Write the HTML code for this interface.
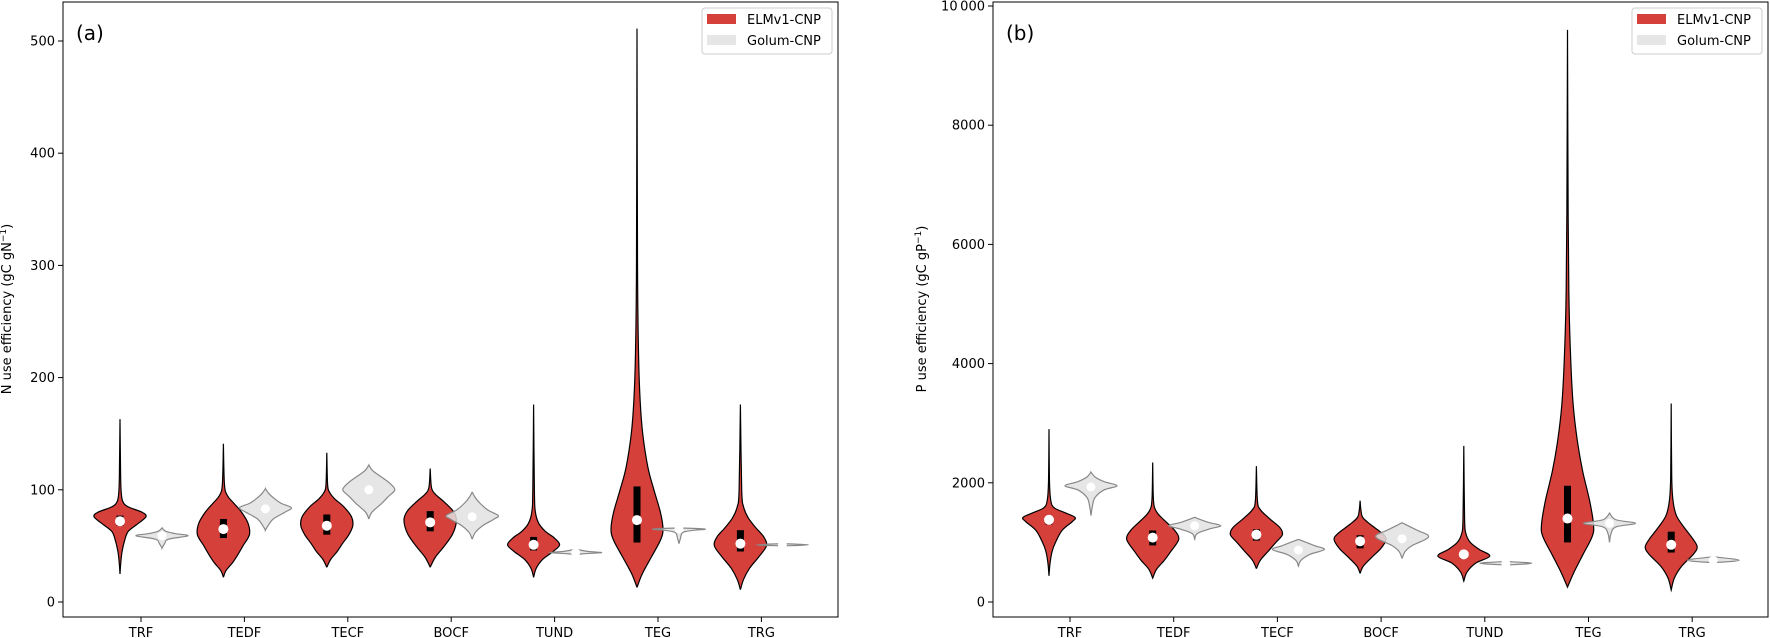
<!DOCTYPE html>
<html><head><meta charset="utf-8"><style>
html,body{margin:0;padding:0;background:#fff;}
svg{display:block;font-family:"DejaVu Sans","Liberation Sans",sans-serif;}
</style></head>
<body>
<svg id="chart" width="1770" height="638" viewBox="0 0 1770 638" xmlns="http://www.w3.org/2000/svg"></svg>
<script>
const categories = ["TRF","TEDF","TECF","BOCF","TUND","TEG","TRG"];
// Panel A: N use efficiency
const aRedMin = [25,22,31,31,22,13,11];
const aRedMax = [163,141,133,119,176,511,176];
const aRedMed = [72,65,68,71,51,73,52];
const aRedQ1 = [68,57,60,63,46,53,45];
const aRedQ3 = [77,74,78,81,58,103,64];
const aRedVals = [
 [25,35,45,55,63,70,76,80,85,90,100,120,163],
 [22,28,35,42,50,60,70,80,88,95,105,141],
 [31,38,45,52,60,68,76,85,92,98,105,133],
 [31,40,50,60,68,75,82,90,96,102,119],
 [22,30,38,45,51,57,63,70,80,100,176],
 [13,25,40,55,65,80,100,120,150,180,220,300,511],
 [11,20,30,40,50,58,66,75,85,100,176]];
const aRedWid = [
 [0,0.03,0.08,0.18,0.32,0.7,1,0.85,0.3,0.1,0.04,0.02,0],
 [0,0.1,0.35,0.55,0.75,1,0.95,0.7,0.4,0.15,0.04,0],
 [0,0.15,0.4,0.6,0.85,1,0.95,0.65,0.3,0.1,0.03,0],
 [0,0.2,0.55,0.85,0.98,1,0.85,0.5,0.2,0.05,0],
 [0,0.1,0.35,0.75,1,0.8,0.45,0.2,0.07,0.03,0],
 [0,0.2,0.55,0.9,1,0.9,0.65,0.42,0.22,0.12,0.06,0.02,0],
 [0,0.12,0.35,0.7,1,0.9,0.6,0.3,0.12,0.05,0]];
const aGreyMed = [59,83,100,76,44,65,51];
const aGreyVals = [
 [48,52,56,59,61,63,66],
 [64,68,74,80,84,88,93,97,101],
 [74,80,88,94,100,106,112,117,122],
 [56,62,68,74,77,82,88,93,98],
 [42,43,44,45,47],
 [52,57,62,64,65,66],
 [50,51,52]];
const aGreyWid = [
 [0,0.1,0.25,1,0.5,0.15,0],
 [0,0.1,0.3,0.75,1,0.6,0.3,0.12,0],
 [0,0.12,0.5,0.75,1,0.8,0.45,0.15,0],
 [0,0.12,0.4,0.85,1,0.6,0.3,0.12,0],
 [0,0.3,1,0.5,0],
 [0,0.06,0.15,0.6,1,0],
 [0,1,0]];
const aTicks = [0,100,200,300,400,500];
const aTickLabels = ["0","100","200","300","400","500"];
// Panel B: P use efficiency
const bRedMin = [440,400,560,480,350,250,200];
const bRedMax = [2900,2340,2280,1700,2620,9600,3330];
const bRedMed = [1380,1080,1130,1020,800,1400,960];
const bRedQ1 = [1300,950,1030,900,730,1000,830];
const bRedQ3 = [1420,1200,1220,1120,850,1950,1180];
const bRedVals = [
 [440,650,850,1000,1200,1350,1420,1500,1580,1700,2000,2900],
 [400,550,700,850,1050,1200,1350,1480,1600,1800,2340],
 [560,700,850,1000,1130,1250,1400,1550,1700,2280],
 [480,600,750,900,1050,1150,1300,1420,1550,1700],
 [350,500,650,770,880,1000,1150,1400,2620],
 [250,500,800,1100,1300,1700,2200,2700,3300,4000,5000,6500,9600],
 [200,400,600,800,920,1050,1250,1450,1700,2100,3330]];
const bRedWid = [
 [0,0.04,0.12,0.25,0.5,0.9,1,0.6,0.2,0.07,0.02,0],
 [0,0.15,0.45,0.7,1,0.85,0.5,0.2,0.06,0.02,0],
 [0,0.15,0.45,0.75,1,0.9,0.5,0.15,0.04,0],
 [0,0.12,0.45,0.8,1,0.85,0.4,0.1,0.03,0],
 [0,0.12,0.45,1,0.6,0.25,0.08,0.03,0],
 [0,0.25,0.6,0.95,1,0.85,0.58,0.38,0.22,0.13,0.06,0.025,0],
 [0,0.12,0.4,0.85,1,0.85,0.5,0.2,0.07,0.02,0]];
const bGreyMed = [1930,1280,870,1060,650,1320,700];
const bGreyVals = [
 [1450,1600,1750,1880,1950,2020,2100,2180],
 [1050,1150,1230,1280,1340,1420],
 [600,700,800,880,950,1050],
 [730,850,950,1050,1120,1200,1330],
 [620,650,680],
 [1000,1150,1260,1320,1380,1490],
 [660,700,760]];
const bGreyWid = [
 [0,0.05,0.15,0.5,1,0.5,0.15,0],
 [0,0.1,0.6,1,0.5,0],
 [0,0.1,0.45,1,0.6,0],
 [0,0.12,0.4,0.9,1,0.6,0],
 [0,1,0],
 [0,0.06,0.25,1,0.25,0],
 [0,1,0]];
const bTicks = [0,2000,4000,6000,8000,10000];
const bTickLabels = ["0","2000","4000","6000","8000","10\u2009000"];

const NS = "http://www.w3.org/2000/svg";
const svg = document.getElementById("chart");
function mk(tag, attrs, parent){const e=document.createElementNS(NS,tag);for(const k in attrs)e.setAttribute(k,attrs[k]);(parent||svg).appendChild(e);return e;}

function smoothSide(pts){
  let d="";
  for(let i=0;i<pts.length-1;i++){
    const p0=pts[Math.max(0,i-1)],p1=pts[i],p2=pts[i+1],p3=pts[Math.min(pts.length-1,i+2)];
    const c1=[p1[0]+(p2[0]-p0[0])/6,p1[1]+(p2[1]-p0[1])/6];
    const c2=[p2[0]-(p3[0]-p1[0])/6,p2[1]-(p3[1]-p1[1])/6];
    d+=` C${c1[0].toFixed(2)},${c1[1].toFixed(2)} ${c2[0].toFixed(2)},${c2[1].toFixed(2)} ${p2[0].toFixed(2)},${p2[1].toFixed(2)}`;
  }
  return d;
}
function violinPath(cx, vals, wids, yScale, half){
  const right = vals.map((v,i)=>[cx+wids[i]*half, yScale(v)]);
  const left = vals.map((v,i)=>[cx-wids[i]*half, yScale(v)]).reverse();
  let d=`M${right[0][0]},${right[0][1]}`+smoothSide(right);
  d+=` L${left[0][0]},${left[0][1]}`+smoothSide(left)+" Z";
  return d;
}

function panel(cfg){
  const g = mk("g",{});
  
  
  const {x0,x1,y0,y1} = cfg;
  const yScale = v => cfg.yZero - v*cfg.yPx;
  const xScale = i => cfg.tick0 + i*cfg.step;
  const half = 26;
  cfg.ticks.forEach((t,i)=>{
    const y=yScale(t);
    const tl=mk("line",{x1:x0-5,x2:x0,y1:y,y2:y,stroke:"#000","stroke-width":1},g);
    
    
    const tx=mk("text",{x:x0-8,y:y+4.5,"text-anchor":"end","font-size":13,fill:"#000"},g);
    tx.textContent=cfg.tickLabels[i];
    
    
  });
  categories.forEach((c,i)=>{
    const x=xScale(i);
    const tl=mk("line",{x1:x,x2:x,y1:y1,y2:y1+5,stroke:"#000","stroke-width":1},g);
    
    
    const tx=mk("text",{x:x,y:637,"text-anchor":"middle","font-size":13,fill:"#000"},g);
    tx.textContent=c;
    
    
  });
  categories.forEach((c,i)=>{
    const cx=xScale(i)-21;
    const p=mk("path",{d:violinPath(cx,cfg.redVals[i],cfg.redWid[i],yScale,half),fill:"#d6403a",stroke:"#000","stroke-width":1.2},g);
    
    
    const b=mk("rect",{x:cx-3.5,y:yScale(cfg.redQ3[i]),width:7,height:yScale(cfg.redQ1[i])-yScale(cfg.redQ3[i]),fill:"#000"},g);
    
    
    const m=mk("circle",{cx:cx,cy:yScale(cfg.redMed[i]),r:5,fill:"#fff"},g);
    
    
  });
  categories.forEach((c,i)=>{
    const cx=xScale(i)+21;
    const vals=cfg.greyVals[i];
    const p=mk("path",{d:violinPath(cx,vals,cfg.greyWid[i],yScale,half),fill:"rgba(226,226,226,0.85)",stroke:"#888","stroke-width":1.2},g);
    
    
    const m=mk("circle",{cx:cx,cy:yScale(cfg.greyMed[i]),r:4.5,fill:"#fff"},g);
    
    
  });
  const fr=mk("rect",{x:x0,y:y0,width:x1-x0,height:y1-y0,fill:"none",stroke:"#000","stroke-width":1},g);
  
  
  const pl=mk("text",{x:x0+13,y:40,"font-size":20,fill:"#000"},g);
  pl.textContent=cfg.label;
  
  
  const yt=mk("text",{x:0,y:0,"font-size":13,"text-anchor":"middle",fill:"#000",transform:`translate(${cfg.ytx},309) rotate(-90)`},g);
  yt.innerHTML=cfg.ytitle;
  
  
  const lg=mk("g",{},g);
  
  
  const lx=x1-136;
  mk("rect",{x:lx,y:8,width:130,height:46,rx:3,fill:"#fff",stroke:"#ccc","stroke-width":1},lg);
  const e1=mk("g",{},lg);
  
  
  mk("rect",{x:lx+5,y:14,width:29,height:10,fill:"#d6403a"},e1);
  const t1=mk("text",{x:lx+45,y:24,"font-size":13,fill:"#000"},e1);t1.textContent="ELMv1-CNP";
  const e2=mk("g",{},lg);
  
  
  mk("rect",{x:lx+5,y:35,width:29,height:10,fill:"#e6e6e6"},e2);
  const t2=mk("text",{x:lx+45,y:45,"font-size":13,fill:"#000"},e2);t2.textContent="Golum-CNP";
}

panel({name:"panel-a-n-use-efficiency",x0:63,x1:838,y0:2,y1:617,yZero:602,yPx:1.122,tick0:141,step:103.4,
  ticks:aTicks,tickLabels:aTickLabels,redVals:aRedVals,redWid:aRedWid,redMin:aRedMin,redMax:aRedMax,redMed:aRedMed,redQ1:aRedQ1,redQ3:aRedQ3,
  greyVals:aGreyVals,greyWid:aGreyWid,greyMed:aGreyMed,label:"(a)",ytx:11,
  ytitle:'N use efficiency (gC gN<tspan baseline-shift="super" font-size="9">\u22121</tspan>)'});
panel({name:"panel-b-p-use-efficiency",x0:993,x1:1768,y0:2,y1:617,yZero:602,yPx:0.0596,tick0:1070,step:103.7,
  ticks:bTicks,tickLabels:bTickLabels,redVals:bRedVals,redWid:bRedWid,redMin:bRedMin,redMax:bRedMax,redMed:bRedMed,redQ1:bRedQ1,redQ3:bRedQ3,
  greyVals:bGreyVals,greyWid:bGreyWid,greyMed:bGreyMed,label:"(b)",ytx:926,
  ytitle:'P use efficiency (gC gP<tspan baseline-shift="super" font-size="9">\u22121</tspan>)'});
</script>
</body></html>
